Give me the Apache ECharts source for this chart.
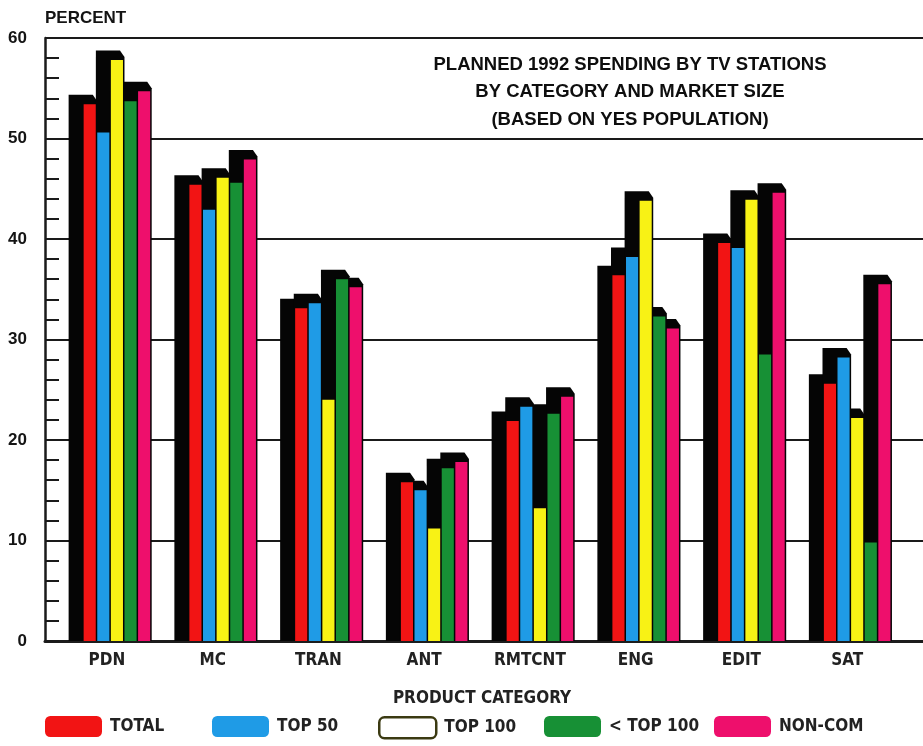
<!DOCTYPE html>
<html>
<head>
<meta charset="utf-8">
<title>Planned 1992 spending by TV stations</title>
<script src="https://cdn.jsdelivr.net/npm/echarts@6/dist/echarts.min.js"></script>
<style>
  html, body { margin: 0; padding: 0; background: #ffffff; }
  #chart { width: 923px; height: 746px; }
</style>
</head>
<body>
<div id="chart"></div>
<script>
// Product categories along the x axis
const categories = ['PDN', 'MC', 'TRAN', 'ANT', 'RMTCNT', 'ENG', 'EDIT', 'SAT'];

// Percent planning to spend, by market size
const totalValues  = [53.4, 45.4, 33.1, 15.8, 21.9, 36.4, 39.6, 25.6];
const top50Values  = [50.6, 42.9, 33.6, 15.0, 23.3, 38.2, 39.1, 28.2];
const top100Values = [57.8, 46.1, 24.0, 11.2, 13.2, 43.8, 43.9, 22.2];
const belowTop100Values = [53.7, 45.6, 36.0, 17.2, 22.6, 32.3, 28.5, 9.8];
const nonComValues = [54.7, 47.9, 35.2, 17.8, 24.3, 31.1, 44.6, 35.5];

const seriesNames = ['TOTAL', 'TOP 50', 'TOP 100', '< TOP 100', 'NON-COM'];
const seriesValues = [totalValues, top50Values, top100Values, belowTop100Values, nonComValues];

// Percent axis
const yMin = 0, yMax = 60, yStep = 10;

const titleLines = [
  'PLANNED 1992 SPENDING BY TV STATIONS',
  'BY CATEGORY AND MARKET SIZE',
  '(BASED ON YES POPULATION)'
];

const faceColors = ['#f21414', '#1f9be6', '#f8f215', '#179035', '#ee0f6c'];
const legendLeft = [45, 212, 378, 544, 714];

const wideFont = '"Liberation Sans", Arial, Helvetica, sans-serif';
const narrowFont = '"Liberation Sans Narrow", "DejaVu Sans Condensed", "Arial Narrow", "Liberation Sans", sans-serif';

const chart = echarts.init(document.getElementById('chart'), null, { renderer: 'canvas' });

// Each bar: a coloured front face with a black extruded block behind it,
// pushed up and to the left. Blocks sit below every face (z2).
function makeBarRenderer(k) {
  return function (params, api) {
    const cat = api.value(0);
    const val = api.value(1);
    const topPt = api.coord([cat, val]);
    const basePt = api.coord([cat, 0]);
    const band = api.size([1, 0])[0];
    const pitch = band * 0.1287;
    const w = pitch * 0.89;
    const cx = topPt[0] + band * 0.095 + (k - 2) * pitch;
    const x0 = cx - w / 2;
    const x1 = cx + w / 2;
    const y0 = topPt[1];
    const y1 = basePt[1];
    const dx = band * 0.142;
    const dy = 9.5;
    return {
      type: 'group',
      children: [
        {
          type: 'polygon',
          z2: 1,
          shape: {
            points: [
              [x0 - dx, y1],
              [x0 - dx, y0 - dy],
              [x1 - 3, y0 - dy],
              [x1 + 1.5, y0 - 3],
              [x1 + 1.5, y1]
            ]
          },
          style: { fill: '#050505' }
        },
        {
          type: 'rect',
          z2: 10,
          shape: { x: x0, y: y0, width: w, height: y1 - y0 },
          style: { fill: faceColors[k] }
        }
      ]
    };
  };
}

const series = seriesNames.map(function (name, k) {
  return {
    name: name,
    type: 'custom',
    xAxisIndex: 1,
    yAxisIndex: 1,
    itemStyle: { color: faceColors[k] },
    renderItem: makeBarRenderer(k),
    encode: { x: 0, y: 1 },
    data: categories.map(function (c, i) { return [i, seriesValues[k][i]]; }),
    clip: true,
    silent: true
  };
});

const legends = seriesNames.map(function (name, k) {
  const item = { name: name };
  if (k === 2) {
    item.itemStyle = { color: '#ffffff', borderColor: '#3b3a12', borderWidth: 2.5 };
  }
  return {
    data: [item],
    left: legendLeft[k],
    top: 716,
    padding: 0,
    orient: 'horizontal',
    icon: 'roundRect',
    itemWidth: 57,
    itemHeight: 21,
    selectedMode: false,
    textStyle: {
      fontFamily: narrowFont,
      fontWeight: 'bold',
      fontSize: 17,
      color: '#222222',
      padding: [0, 0, 0, 3]
    }
  };
});

const option = {
  animation: false,
  backgroundColor: '#ffffff',
  grid: [
    // frame, gridlines and percent axis
    { left: 45, right: 0, top: 38, bottom: 105, containLabel: false },
    // category bands for the bars
    { left: 54, width: 846, top: 38, bottom: 105, containLabel: false }
  ],
  xAxis: [
    {
      gridIndex: 0,
      type: 'value',
      min: 0,
      max: 1,
      axisLine: { show: true, lineStyle: { color: '#1c1c1c', width: 3 } },
      axisTick: { show: false },
      axisLabel: { show: false },
      splitLine: { show: false }
    },
    {
      gridIndex: 1,
      type: 'category',
      data: categories,
      axisLine: { show: false },
      axisTick: { show: false },
      splitLine: { show: false },
      axisLabel: {
        margin: 11,
        fontFamily: narrowFont,
        fontWeight: 'bold',
        fontSize: 17,
        color: '#222222'
      },
      name: 'PRODUCT CATEGORY',
      nameLocation: 'middle',
      nameGap: 49,
      nameTextStyle: {
        fontFamily: narrowFont,
        fontWeight: 'bold',
        fontSize: 17,
        color: '#222222',
        padding: [0, 0, 0, 10]
      }
    }
  ],
  yAxis: [
    {
      gridIndex: 0,
      type: 'value',
      min: yMin,
      max: yMax,
      interval: yStep,
      name: 'PERCENT',
      nameLocation: 'end',
      nameGap: 20,
      nameTextStyle: {
        align: 'left',
        verticalAlign: 'middle',
        fontFamily: wideFont,
        fontWeight: 'bold',
        fontSize: 17,
        color: '#141414'
      },
      axisLine: { show: true, lineStyle: { color: '#1a1a1a', width: 2.5 } },
      axisTick: { show: true, inside: true, length: 14, lineStyle: { color: '#1a1a1a', width: 2 } },
      minorTick: { show: true, splitNumber: 5, length: 14, lineStyle: { color: '#1a1a1a', width: 2 } },
      axisLabel: {
        margin: 18,
        fontFamily: wideFont,
        fontWeight: 'bold',
        fontSize: 17,
        color: '#141414'
      },
      splitLine: { show: true, lineStyle: { color: '#1a1a1a', width: 2 } }
    },
    {
      gridIndex: 1,
      type: 'value',
      min: yMin,
      max: yMax,
      interval: yStep,
      show: false
    }
  ],
  legend: legends,
  graphic: [
    {
      type: 'text',
      x: 630,
      y: 51,
      silent: true,
      style: {
        text: titleLines.join('\n'),
        align: 'center',
        verticalAlign: 'top',
        lineHeight: 27.5,
        fill: '#0e0e0e',
        fontFamily: wideFont,
        fontWeight: 'bold',
        fontSize: 18.5
      }
    }
  ],
  series: series
};

chart.setOption(option);
</script>
</body>
</html>
